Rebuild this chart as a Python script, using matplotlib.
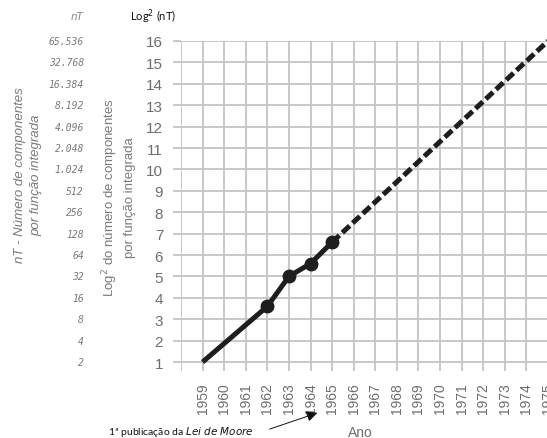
import matplotlib.pyplot as plt
from matplotlib.transforms import blended_transform_factory

# measured points (log2 of component count)
anos_medidos = [1959, 1962, 1963, 1964, 1965]
log_medidos = [1.0, 3.6, 5.0, 5.6, 6.6]
# extrapolation to 1975
anos_proj = [1965, 1975]
log_proj = [6.6, 16.0]

anos_ticks = list(range(1958, 1976))
anos_labels = [''] + [str(a) for a in range(1959, 1976)]
log_ticks = list(range(1, 17))
nt_labels = ['2', '4', '8', '16', '32', '64', '128', '256', '512', '1.024',
             '2.048', '4.096', '8.192', '16.384', '32.768', '65.536']

W, H = 547, 439
fig = plt.figure(figsize=(W / 100, H / 100), dpi=100)
ax = fig.add_axes([181 / W, 1 - 372 / H, 367 / W, 330 / H])

grid_c = '#c4c4c4'
txt_c = '#6e6e6e'

ax.set_xlim(1958, 1975)
ax.set_ylim(0.58, 16)
ax.set_xticks(anos_ticks)
ax.set_xticklabels(anos_labels, rotation=90, family='Liberation Sans',
                   fontsize=10, color=txt_c)
ax.set_yticks(log_ticks)
ax.set_yticklabels([str(v) for v in log_ticks], family='Liberation Sans',
                   fontsize=11, color=txt_c)
ax.tick_params(axis='x', length=0, pad=8)
ax.tick_params(axis='y', length=5.8, width=1.3, color=grid_c, pad=7)
ax.grid(True, color=grid_c, linewidth=1.3)
ax.set_axisbelow(True)
for s in ax.spines.values():
    s.set_visible(False)

ax.plot(anos_medidos, log_medidos, color='#1e1e1e', linewidth=3.6,
        solid_capstyle='butt', zorder=3)
ax.plot(anos_medidos[1:], log_medidos[1:], 'o', color='#1e1e1e',
        markersize=9, zorder=4)
ax.plot(anos_proj, log_proj, color='#1e1e1e', linewidth=3.6,
        dashes=(2.0, 0.8), zorder=3, clip_on=False)

# nT column on the far left
tr = blended_transform_factory(fig.transFigure, ax.transData)
for v, lab in zip(log_ticks, nt_labels):
    ax.text(84 / W, v, lab, transform=tr, ha='right', va='center',
            family='DejaVu Sans Mono', style='oblique', fontsize=7,
            color='#7a7a7a')

fig.text(84 / W, 1 - 17 / H, 'nT', ha='right', va='center',
         style='italic', fontsize=7.5, color='#8a8a8a')
fig.text(130 / W, 1 - 17 / H, 'Log$^{2}$ (nT)', ha='left', va='center',
         family='Lato', fontsize=8, color='#111111')

fig.text(28 / W, 1 - 175 / H, 'nT - Número de componentes\npor função integrada',
         rotation=90, ha='center', va='center', style='italic',
         family='Liberation Sans', fontsize=9.5, color='#7a7a7a',
         linespacing=1.5)
fig.text(118 / W, 1 - 198 / H, 'Log$^{2}$ do número de componentes\npor função integrada',
         rotation=90, ha='center', va='center',
         family='Liberation Sans', fontsize=9.5, color='#7a7a7a',
         linespacing=1.45)

fig.text(108 / W, 1 - 432 / H, '1ª publicação da $\\it{Lei\\ de\\ Moore}$',
         ha='left', va='center', family='Lato', fontsize=7.5, color='#111111')
fig.text(360 / W, 1 - 433 / H, 'Ano', ha='center', va='center',
         family='Liberation Sans', fontsize=10, color=txt_c)

ax.annotate('', xy=(320 / W, 1 - 413 / H), xytext=(267 / W, 1 - 431 / H),
            xycoords='figure fraction', textcoords='figure fraction',
            arrowprops=dict(arrowstyle='-|>', color='#111111', lw=0.7,
                            mutation_scale=16))

fig.savefig('out.png', dpi=100)
